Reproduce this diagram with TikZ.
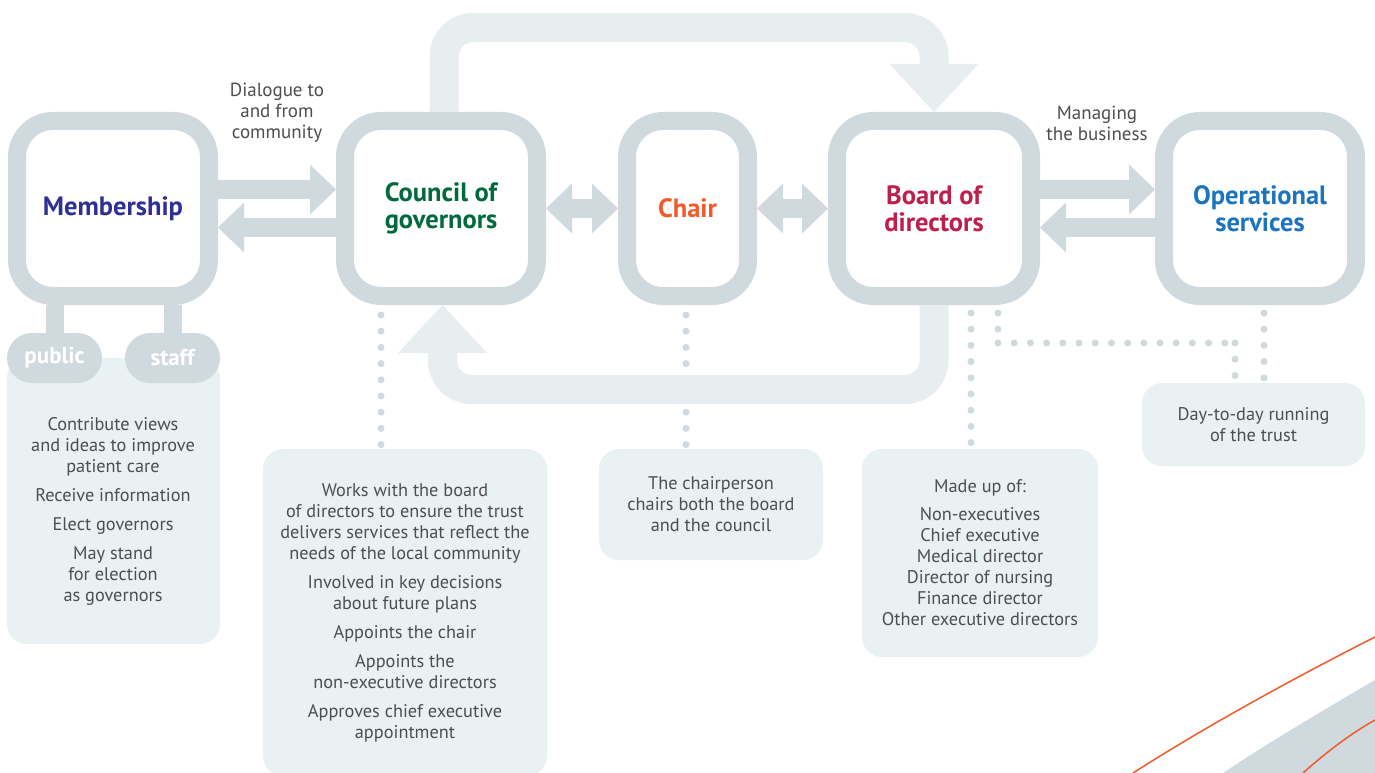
\documentclass[tikz,border=0pt]{standalone}
\usepackage{fontspec}
\setmainfont{PT Sans}
\usetikzlibrary{arrows.meta,positioning}
\definecolor{boxgray}{RGB}{208,217,222}
\definecolor{bandgray}{RGB}{232,237,240}
\definecolor{panelgray}{RGB}{234,241,243}
\definecolor{textgray}{RGB}{78,78,78}
\definecolor{membblue}{RGB}{46,49,146}
\definecolor{coungreen}{RGB}{0,105,62}
\definecolor{chairorange}{RGB}{241,90,41}
\definecolor{boardred}{RGB}{190,30,76}
\definecolor{operblue}{RGB}{28,117,188}

\begin{document}
\begin{tikzpicture}[x=1pt,y=-1pt,
  >={Triangle[length=26pt,width=50pt,line width=0pt]},
  box/.style={draw=boxgray,line width=18pt,rounded corners=36pt,minimum width=192pt,
    minimum height=175pt,align=center,font=\fontsize{26.5}{27}\selectfont\bfseries},
  blockarrow/.style={draw=boxgray,line width=19pt},
  band/.style={draw=bandgray,line width=29pt,rounded corners=29pt,
    -{Triangle[length=48pt,width=89pt,line width=0pt]}},
  pill/.style={fill=boxgray,rounded corners=25pt,minimum width=95pt,minimum height=50pt,
    text=white,font=\fontsize{23}{24}\selectfont\bfseries},
  panel/.style={fill=panelgray,rounded corners=20pt,inner sep=0pt,align=center,
    text=textgray,font=\fontsize{18.3}{21}\selectfont},
  bodytext/.style={text=textgray,align=center,font=\fontsize{18.3}{21}\selectfont},
  labeltext/.style={text=textgray,align=center,font=\fontsize{19}{21}\selectfont},
  dots/.style={draw=boxgray,line width=7pt,line cap=round,dash pattern=on 0pt off 16.2pt}]
\path[use as bounding box,fill=white] (0,0) rectangle (1375,773);

\fill[boxgray] (1223,773) .. controls (1260,748) and (1320,712) .. (1375,680) -- (1375,773) -- cycle;
\draw[chairorange,line width=1.5pt] (1133,773) .. controls (1200,730) and (1290,680) .. (1375,637);
\draw[chairorange,line width=1.5pt] (1303,773) .. controls (1322,756) and (1348,735) .. (1375,720);

\node[box,text=membblue] (memb) at (113,208.5) {Membership};
\node[box,text=coungreen] (coun) at (441,208.5) {Council of\\governors};
\node[box,text=chairorange,minimum width=121pt] (chair) at (687.5,208.5) {Chair};
\node[box,text=boardred,minimum width=194pt] (board) at (934,208.5) {Board of\\directors};
\node[box,text=operblue] (oper) at (1260,208.5) {Operational\\services};

\node[labeltext] (dialogue) at (277,113) {Dialogue to\\and from\\community};
\node[labeltext] (managing) at (1097,123.5) {Managing\\the business};

\draw[blockarrow,->] ([yshift=19pt]memb.east) -- ([yshift=19pt]coun.west);
\draw[blockarrow,<-] ([yshift=-19pt]memb.east) -- ([yshift=-19pt]coun.west);
\draw[blockarrow,<->] (coun.east) -- (chair.west);
\draw[blockarrow,<->] (chair.east) -- (board.west);
\draw[blockarrow,->] ([yshift=19pt]board.east) -- ([yshift=19pt]oper.west);
\draw[blockarrow,<-] ([yshift=-19pt]board.east) -- ([yshift=-19pt]oper.west);

\fill[panelgray,rounded corners=20pt] (7,358) rectangle (220,644);
\node[pill] (public) at (54.5,358) {public};
\node[pill] (staff) at (172.5,358) {staff};
\draw[boxgray,line width=18pt] (public.north) -- (public.north |- memb.south);
\draw[boxgray,line width=18pt] (staff.north) -- (staff.north |- memb.south);
\node[bodytext] (membtext) at (113,511) {Contribute views\\and ideas to improve\\patient care\\[8pt]
  Receive information\\[8pt]Elect governors\\[8pt]May stand\\for election\\as governors};

\node[panel,minimum width=284pt,minimum height=327pt] (councpanel) at (405,612.5) {Works with the board\\
  of directors to ensure the trust\\delivers services that reflect the\\needs of the local community\\[8pt]
  Involved in key decisions\\about future plans\\[8pt]Appoints the chair\\[8pt]
  Appoints the\\non-executive directors\\[8pt]Approves chief executive\\appointment};
\node[panel,minimum width=224pt,minimum height=111pt] (chairpanel) at (711,504.5)
  {The chairperson\\chairs both the board\\and the council};
\node[panel,minimum width=236pt,minimum height=208pt] (boardpanel) at (980,553)
  {Made up of:\\[7pt]Non-executives\\Chief executive\\Medical director\\Director of nursing\\
  Finance director\\Other executive directors};
\node[panel,minimum width=223pt,minimum height=83pt] (operpanel) at (1253.5,424.5)
  {Day-to-day running\\of the trust};

\coordinate (bend1) at (998,343);
\coordinate (bend2) at (1235,343);
\draw[dots] ([xshift=-60pt,yshift=-10pt]coun.south) -- ([xshift=-24pt,yshift=4pt]councpanel.north);
\draw[dots] ([xshift=-1.5pt,yshift=-10pt]chair.south) -- ([xshift=-25pt,yshift=4pt]chairpanel.north);
\draw[dots] ([xshift=37pt,yshift=-8pt]board.south) -- ([xshift=-9pt,yshift=4pt]boardpanel.north);
\draw[dots] ([xshift=64pt,yshift=-8pt]board.south) -- (bend1);
\draw[dots] (bend1) -- (bend2);
\draw[dots] (bend2) -- ([xshift=-18.5pt,yshift=5pt]operpanel.north);
\draw[dots] ([xshift=4pt,yshift=-8pt]oper.south) -- ([xshift=10.5pt,yshift=5pt]operpanel.north);

\draw[band] ([xshift=3pt]coun.north) -- ++(0,-84.5) -| (board.north);
\draw[band] (board.south) -- ++(0,84.5) -| ([xshift=1.5pt]coun.south);
\end{tikzpicture}
\end{document}
